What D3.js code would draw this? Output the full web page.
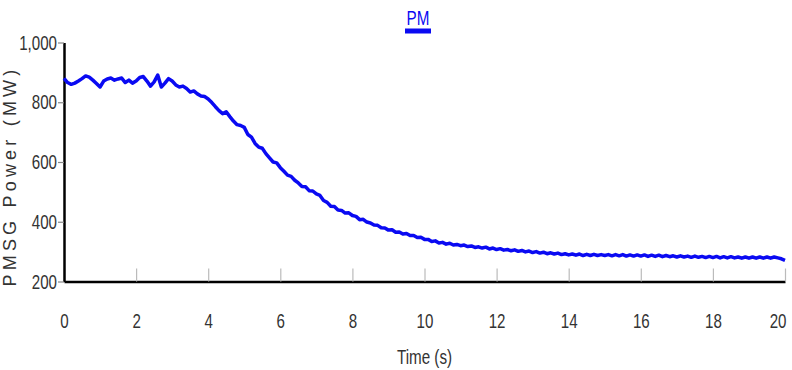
<!DOCTYPE html>
<html>
<head>
<meta charset="utf-8">
<script src="https://cdn.jsdelivr.net/npm/d3@7"></script>
<style>
  body { margin: 0; background: #fff; }
  svg { display: block; }
  .tick text { font-family: "Liberation Sans", Arial, sans-serif; }
</style>
</head>
<body>
<svg id="chart" width="792" height="370"></svg>
<script>
// series name + axis titles
const seriesName = "PM";
const xTitle = "Time (s)";
const yTitle = "PMSG Power (MW)";

// tick values
const xTicks = [0, 2, 4, 6, 8, 10, 12, 14, 16, 18, 20];
const yTicks = [200, 400, 600, 800, 1000];

// sampled every 0.1 s, 0 .. 20 s
const sampleStep = 0.1;
const pmsgPower = [
  880, 866, 860, 864, 871, 879, 888, 884, 874, 863,
  851, 871, 878, 881, 874, 878, 881, 866, 874, 864,
  871, 883, 886, 871, 854, 868, 891, 851, 864, 879,
  871, 858, 851, 854, 846, 834, 838, 828, 821, 819,
  811, 799, 785, 772, 762, 768, 752, 737, 725, 722,
  716, 692, 683, 662, 650, 646, 628, 614, 600, 597,
  581, 569, 556, 552, 539, 530, 518, 517, 504, 503,
  493, 488, 471, 465, 452, 451, 439, 438, 429, 430,
  421, 418, 407, 408, 399, 396, 389, 388, 380, 379,
  372, 373, 365, 366, 359, 361, 354, 354, 347, 348,
  341, 341, 334, 336, 329, 331, 325, 328, 322, 324,
  320, 322, 317, 319, 314, 316, 312, 315, 309, 312,
  307, 310, 305, 307, 303, 306, 301, 304, 299, 302,
  297, 300, 295, 298, 293, 296, 292, 295, 290, 293,
  289, 292, 288, 292, 287, 291, 287, 291, 287, 290,
  287, 290, 286, 290, 286, 290, 285, 289, 285, 289,
  285, 289, 284, 288, 284, 288, 283, 287, 283, 286,
  282, 286, 282, 285, 281, 285, 281, 284, 280, 284,
  280, 284, 279, 283, 279, 283, 279, 282, 278, 282,
  278, 282, 278, 282, 278, 282, 278, 282, 279, 276,
  271
];

const CONSTANT = {
    TR: "transform",
    TS: (x, y) => `translate(${[x, y]})`,
    BLUE: "#0a0af2",
    TEXT: "#333",
    FONT: '"Liberation Sans", Arial, sans-serif'
};

// no narrow font installed, so squeeze the glyphs instead
function condense(sel, k) {
    sel.each(function () {
        const w = this.getComputedTextLength();
        d3.select(this)
            .attr("textLength", w * k)
            .attr("lengthAdjust", "spacingAndGlyphs");
    });
}

const margin = { top: 42.5, left: 64, right: 7, bottom: 88.5 };
const svg = d3.select("#chart");
const totalWidth = +svg.attr("width");
const totalHeight = +svg.attr("height");
const figWidth = totalWidth - margin.left - margin.right;
const figHeight = totalHeight - margin.top - margin.bottom;

const x = d3.scaleLinear().domain([0, 20]).range([0, figWidth]);
const y = d3.scaleLinear().domain([200, 1000]).range([figHeight, 0]);

const fig = svg.append("g")
    .attr(CONSTANT.TR, CONSTANT.TS(margin.left, margin.top));

// x axis, ticks point up into the plot
const xAxis = fig.append("g")
    .attr(CONSTANT.TR, CONSTANT.TS(0, figHeight))
    .call(d3.axisBottom(x).tickValues(xTicks).tickSize(-13).tickSizeOuter(0).tickPadding(32));
xAxis.select(".domain").attr("stroke", "#000").attr("stroke-width", 2.5);
xAxis.selectAll(".tick line").attr("stroke", "#bbb").attr("stroke-width", 1.2);
xAxis.selectAll(".tick text")
    .attr("fill", CONSTANT.TEXT)
    .style("font-size", "21px")
    .call(condense, 0.72);
// last label sits on the right edge, keep it inside
xAxis.selectAll(".tick text")
    .filter(d => d === 20)
    .attr("text-anchor", "end")
    .attr("x", 1);

// y axis
const yAxis = fig.append("g")
    .call(d3.axisLeft(y).tickValues(yTicks).tickSize(6).tickSizeOuter(0).tickPadding(1)
        .tickFormat(d3.format(",")));
yAxis.select(".domain").attr("stroke", "#000").attr("stroke-width", 2.5);
yAxis.selectAll(".tick line").attr("stroke", "#888").attr("stroke-width", 1.2);
yAxis.selectAll(".tick text")
    .attr("fill", CONSTANT.TEXT)
    .style("font-size", "21px")
    .call(condense, 0.72);

// axis titles
fig.append("text")
    .attr("x", figWidth / 2)
    .attr("y", figHeight + 82)
    .attr("text-anchor", "middle")
    .attr("fill", CONSTANT.TEXT)
    .style("font-family", CONSTANT.FONT)
    .style("font-size", "20px")
    .text(xTitle)
    .call(condense, 0.76);

fig.append("text")
    .attr("transform", `translate(${-margin.left + 16},${figHeight / 2 + 14}) rotate(-90)`)
    .attr("text-anchor", "middle")
    .attr("fill", CONSTANT.TEXT)
    .style("font-family", CONSTANT.FONT)
    .style("font-size", "18px")
    .style("letter-spacing", "4.2px")
    .text(yTitle);

// the series line
const line = d3.line()
    .x((d, i) => x(i * sampleStep))
    .y(d => y(d));

fig.append("path")
    .datum(pmsgPower)
    .attr("fill", "none")
    .attr("stroke", CONSTANT.BLUE)
    .attr("stroke-width", 3.5)
    .attr("stroke-linejoin", "round")
    .attr("d", line);

// legend at the top
const legend = svg.append("g")
    .attr(CONSTANT.TR, CONSTANT.TS(418, 0));
legend.append("text")
    .attr("y", 25)
    .attr("text-anchor", "middle")
    .attr("fill", CONSTANT.BLUE)
    .style("font-family", CONSTANT.FONT)
    .style("font-size", "20px")
    .text(seriesName)
    .call(condense, 0.76);
legend.append("rect")
    .attr("x", -13)
    .attr("y", 28.5)
    .attr("width", 26)
    .attr("height", 5)
    .attr("fill", CONSTANT.BLUE);
</script>
</body>
</html>
